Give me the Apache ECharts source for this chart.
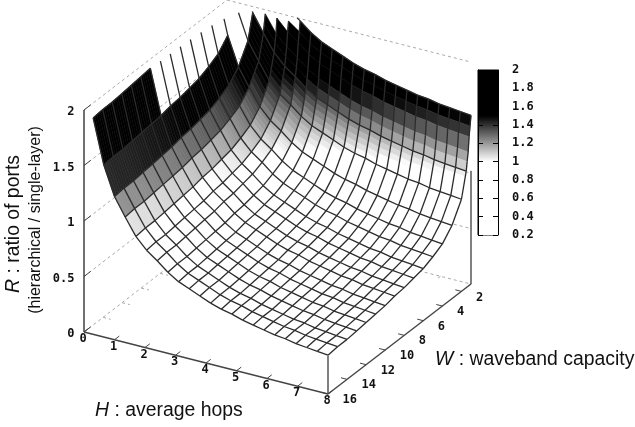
<!DOCTYPE html>
<html><head><meta charset="utf-8">
<style>html,body{margin:0;padding:0;background:#fff}#c{width:635px;height:427px}</style>
<script src="https://cdn.jsdelivr.net/npm/echarts@6/dist/echarts.min.js"></script>
</head><body><div id="c"></div>
<script>
// ---- data ----
const hValues = [0.3,0.65,1,1.35,1.7,2.05,2.4,2.75,3.1,3.45,3.8,4.15,4.5,4.85,5.2,5.55,5.9,6.25,6.6,6.95,7.3,7.65,8];
const wValues = [1,1.1,1.2,1.3,1.4,1.5,2,3,4,5,6,7,8,9,10,11,12,13,14,15,16];
const meshW = [1,1.5,2,3,4,5,6,7,8,9,10,11,12,13,14,15,16];
// one row per H value, one column per W value
const ratioR = [
[3.12,3.03,2.94,2.81,2.73,2.65,2.43,2.26,2.16,2.11,2.07,2.05,2.03,2.02,2.00,1.99,1.98,1.97,1.96,1.96,1.95],
[2.72,2.63,2.54,2.41,2.33,2.25,2.03,1.86,1.76,1.71,1.67,1.65,1.63,1.62,1.60,1.59,1.58,1.57,1.56,1.56,1.55],
[2.46,2.37,2.28,2.15,2.07,1.99,1.77,1.60,1.50,1.45,1.41,1.39,1.37,1.36,1.34,1.33,1.32,1.31,1.30,1.30,1.29],
[2.30,2.21,2.12,1.99,1.91,1.83,1.61,1.44,1.34,1.29,1.25,1.23,1.21,1.20,1.18,1.17,1.16,1.15,1.14,1.14,1.13],
[2.15,2.06,1.97,1.84,1.76,1.68,1.46,1.29,1.19,1.14,1.10,1.08,1.06,1.05,1.03,1.02,1.01,1.00,0.99,0.99,0.98],
[2.05,1.96,1.87,1.74,1.66,1.58,1.36,1.19,1.09,1.04,1.00,0.98,0.96,0.95,0.93,0.92,0.91,0.90,0.89,0.89,0.88],
[1.98,1.89,1.80,1.67,1.59,1.51,1.29,1.12,1.02,0.97,0.93,0.91,0.89,0.88,0.86,0.85,0.84,0.83,0.82,0.82,0.81],
[1.90,1.81,1.72,1.59,1.51,1.43,1.21,1.04,0.94,0.89,0.85,0.83,0.81,0.80,0.78,0.77,0.76,0.75,0.74,0.74,0.73],
[1.84,1.75,1.66,1.53,1.45,1.37,1.15,0.98,0.88,0.83,0.79,0.77,0.75,0.74,0.72,0.71,0.70,0.69,0.68,0.68,0.67],
[1.80,1.71,1.62,1.49,1.41,1.33,1.11,0.94,0.84,0.79,0.75,0.73,0.71,0.70,0.68,0.67,0.66,0.65,0.64,0.64,0.63],
[1.76,1.67,1.58,1.45,1.37,1.29,1.07,0.90,0.80,0.75,0.71,0.69,0.67,0.66,0.64,0.63,0.62,0.61,0.60,0.60,0.59],
[1.72,1.63,1.54,1.41,1.33,1.25,1.03,0.86,0.76,0.71,0.67,0.65,0.63,0.62,0.60,0.59,0.58,0.57,0.56,0.56,0.55],
[1.69,1.60,1.51,1.38,1.30,1.22,1.00,0.83,0.73,0.68,0.64,0.62,0.60,0.59,0.57,0.56,0.55,0.54,0.53,0.53,0.52],
[1.67,1.58,1.49,1.36,1.28,1.20,0.98,0.81,0.71,0.66,0.62,0.60,0.58,0.57,0.55,0.54,0.53,0.52,0.51,0.51,0.50],
[1.64,1.55,1.46,1.33,1.25,1.17,0.95,0.78,0.68,0.63,0.59,0.57,0.55,0.54,0.52,0.51,0.50,0.49,0.48,0.48,0.47],
[1.62,1.53,1.44,1.31,1.23,1.15,0.93,0.76,0.66,0.61,0.57,0.55,0.53,0.52,0.50,0.49,0.48,0.47,0.46,0.46,0.45],
[1.60,1.51,1.42,1.29,1.21,1.13,0.91,0.74,0.64,0.59,0.55,0.53,0.51,0.50,0.48,0.47,0.46,0.45,0.44,0.44,0.43],
[1.58,1.49,1.40,1.27,1.19,1.11,0.89,0.72,0.62,0.57,0.53,0.51,0.49,0.48,0.46,0.45,0.44,0.43,0.42,0.42,0.41],
[1.57,1.48,1.39,1.26,1.18,1.10,0.88,0.71,0.61,0.56,0.52,0.50,0.48,0.47,0.45,0.44,0.43,0.42,0.41,0.41,0.40],
[1.55,1.46,1.37,1.24,1.16,1.08,0.86,0.69,0.59,0.54,0.50,0.48,0.46,0.45,0.43,0.42,0.41,0.40,0.39,0.39,0.38],
[1.54,1.45,1.36,1.23,1.15,1.07,0.85,0.68,0.58,0.53,0.49,0.47,0.45,0.44,0.42,0.41,0.40,0.39,0.38,0.38,0.37],
[1.53,1.44,1.35,1.22,1.14,1.06,0.84,0.67,0.57,0.52,0.48,0.46,0.44,0.43,0.41,0.40,0.39,0.38,0.37,0.37,0.36],
[1.52,1.43,1.34,1.21,1.13,1.05,0.83,0.66,0.56,0.51,0.47,0.45,0.43,0.42,0.40,0.39,0.38,0.37,0.36,0.36,0.35]
];
const hTicks = [0,1,2,3,4,5,6,7,8];
const wTicks = [2,4,6,8,10,12,14,16];
const zTicks = [0,0.5,1,1.5,2];
const zMax = 2;

// ---- view of the 3D box ----
function project(h, w, z) {
  return [84 + 30.5 * h + (16 - w) * 9.533, 332 + 7.75 * h - (16 - w) * 7.33 - 111 * z];
}
function grayOf(r) {
  const g = Math.round(255 * Math.max(0, Math.min(1, (1.5 - r) / 0.5)));
  return 'rgb(' + g + ',' + g + ',' + g + ')';
}

const chart = echarts.init(document.getElementById('c'), null, {renderer: 'canvas'});

const cells = [];
for (let i = 0; i < hValues.length - 1; i++) for (let j = 0; j < wValues.length - 1; j++) cells.push([i, j]);
cells.sort((a, b) => (a[0] + a[1]) - (b[0] + b[1]));
const cellOK = (i, j) => ratioR[i][j] <= zMax && ratioR[i + 1][j] <= zMax && ratioR[i][j + 1] <= zMax && ratioR[i + 1][j + 1] <= zMax;

const meshSegs = [];
hValues.forEach((h, i) => wValues.forEach((w, j) => {
  if (i < hValues.length - 1 && meshW.includes(w)) meshSegs.push([i, j, i + 1, j]);
  if (j < wValues.length - 1) {
    const left = i > 0 && cellOK(i - 1, j), right = i < hValues.length - 1 && cellOK(i, j);
    if (left || right) meshSegs.push([i, j, i, j + 1]);
  }
}));

function segSeries(segs, style, z) {
  return {
    type: 'custom', coordinateSystem: 'cartesian2d', xAxisIndex: 0, yAxisIndex: 0,
    silent: true, animation: false, progressive: 0, clip: false, z: z,
    data: segs,
    renderItem: function (params, api) {
      const a = api.coord(project(api.value(0), api.value(1), api.value(2)));
      const b = api.coord(project(api.value(3), api.value(4), api.value(5)));
      return {type: 'line', shape: {x1: a[0], y1: a[1], x2: b[0], y2: b[1]}, style: Object.assign({fill: null}, style)};
    }
  };
}
function textSeries(items, font, align, z) {
  return {
    type: 'custom', coordinateSystem: 'cartesian2d', xAxisIndex: 0, yAxisIndex: 0,
    silent: true, animation: false, progressive: 0, clip: false, z: z,
    data: items.map(t => [t.h, t.w, t.z]),
    renderItem: function (params, api) {
      const t = items[params.dataIndex];
      const p = api.coord(project(t.h, t.w, t.z));
      return {type: 'text', x: p[0] + t.dx, y: p[1] + t.dy, style: {text: t.s, font: font, fill: '#111', textAlign: align, textVerticalAlign: 'middle'}};
    }
  };
}

const backDash = [[0,16,zMax,0,1,zMax],[0,1,zMax,8,1,zMax]];
zTicks.slice(0, 4).forEach(z => { backDash.push([0,16,z,0,1,z]); backDash.push([0,1,z,8,1,z]); });
wTicks.forEach(w => backDash.push([0,w,0,0.25,w,0]));
hTicks.forEach(h => backDash.push([h,1,0,h,1.5,0]));

const frameDark = [[0,16,0,8,16,0],[8,16,0,8,1,0]];
const frameZ = [[0,16,0,0,16,zMax]];
const frameGray = [[8,16,0,8,16,0.35],[8,1,0,8,1,1.02]];
const frameTicks = [];
hTicks.forEach(h => frameTicks.push([h,16,0,h,15.5,0]));
wTicks.forEach(w => frameTicks.push([8,w,0,7.8,w,0]));
zTicks.forEach(z => frameTicks.push([0,16,z,0,15.3,z]));

const hLabels = hTicks.map(h => ({h: h, w: 16, z: 0, dx: -1, dy: 7, s: String(h)}));
const wLabels = wTicks.map(w => ({h: 8, w: w, z: 0, dx: 14.5, dy: 6, s: String(w)}));
const zLabels = zTicks.map(z => ({h: 0, w: 16, z: z, dx: -9.5, dy: 2, s: String(z)}));

const monoFont = 'bold 12px "DejaVu Sans Mono"';
const richTitle = {i: {fontFamily: 'Liberation Sans', fontStyle: 'italic', fontSize: 19.4, fill: '#111'},
                   n: {fontFamily: 'Liberation Sans', fontSize: 19.4, fill: '#111'}};
const fillSteps = 5;

chart.setOption({
  animation: false,
  backgroundColor: '#fff',
  grid: [
    {left: 0, top: 0, width: 635, height: 427, show: false},
    {left: 478, top: 70, width: 20, height: 165, show: true, borderColor: '#000', borderWidth: 1, backgroundColor: 'transparent'}
  ],
  xAxis: [
    {gridIndex: 0, type: 'value', min: 0, max: 635, show: false},
    {gridIndex: 1, type: 'value', min: 0, max: 1, show: false}
  ],
  yAxis: [
    {gridIndex: 0, type: 'value', min: 0, max: 427, inverse: true, show: false},
    {gridIndex: 1, type: 'value', min: 0.2, max: 2, interval: 0.2, position: 'left', z: 5,
     axisLine: {show: true, lineStyle: {color: '#000'}}, axisTick: {show: true, inside: true, length: 5, lineStyle: {color: '#000'}},
     axisLabel: {show: false}, splitLine: {show: false}},
    {gridIndex: 1, type: 'value', min: 0.2, max: 2, interval: 0.2, position: 'right', z: 5,
     axisLine: {show: true, lineStyle: {color: '#000'}}, axisTick: {show: true, inside: true, length: 5, lineStyle: {color: '#000'}},
     axisLabel: {show: true, margin: 14, color: '#111', fontFamily: 'DejaVu Sans Mono', fontWeight: 'bold', fontSize: 12, padding: [6, 0, 0, 0],
       showMinLabel: true, showMaxLabel: true, formatter: v => String(+v.toFixed(1))}, splitLine: {show: false}}
  ],
  series: [
    segSeries(backDash, {stroke: '#aaa', lineWidth: 1, lineDash: [3, 3]}, 2),
    {
      type: 'custom', coordinateSystem: 'cartesian2d', xAxisIndex: 1, yAxisIndex: 1, silent: true, animation: false, z: 2,
      data: [[0, zMax, 1, 0.2]],
      renderItem: function (params, api) {
        const a = api.coord([api.value(0), api.value(1)]), b = api.coord([api.value(2), api.value(3)]);
        const off = r => (zMax - r) / (zMax - 0.2);
        return {type: 'rect', shape: {x: a[0], y: a[1], width: b[0] - a[0], height: b[1] - a[1]},
          style: {fill: new echarts.graphic.LinearGradient(0, 0, 0, 1, [
            {offset: 0, color: '#000'}, {offset: off(1.5), color: '#000'}, {offset: off(1.0), color: '#fff'}, {offset: 1, color: '#fff'}])}};
      }
    },
    {
      type: 'custom', coordinateSystem: 'cartesian2d', xAxisIndex: 0, yAxisIndex: 0, silent: true, animation: false,
      progressive: 0, clip: false, z: 3,
      data: cells,
      renderItem: function (params, api) {
        const i = api.value(0), j = api.value(1);
        if (!cellOK(i, j)) return null;
        const h0 = hValues[i], h1 = hValues[i + 1], w0 = wValues[j], w1 = wValues[j + 1];
        const steps = (w1 - w0) >= 0.5 ? fillSteps : 1;
        const children = [];
        for (let s = 0; s < steps; s++) {
          const t0 = s / steps, t1 = (s + 1) / steps;
          const rAt = (row, t) => ratioR[row][j] + t * (ratioR[row][j + 1] - ratioR[row][j]);
          const wAt = t => w0 + t * (w1 - w0);
          const c = [[h0, wAt(t0), rAt(i, t0)], [h1, wAt(t0), rAt(i + 1, t0)], [h1, wAt(t1), rAt(i + 1, t1)], [h0, wAt(t1), rAt(i, t1)]];
          const col = grayOf((c[0][2] + c[1][2] + c[2][2] + c[3][2]) / 4);
          children.push({type: 'polygon', shape: {points: c.map(p => api.coord(project(p[0], p[1], p[2])))}, style: {fill: col, stroke: col, lineWidth: 0.6}});
        }
        return {type: 'group', children: children};
      }
    },
    {
      type: 'custom', coordinateSystem: 'cartesian2d', xAxisIndex: 0, yAxisIndex: 0, silent: true, animation: false,
      progressive: 0, clip: false, z: 4,
      data: meshSegs,
      renderItem: function (params, api) {
        const i0 = api.value(0), j0 = api.value(1), i1 = api.value(2), j1 = api.value(3);
        let a = [hValues[i0], wValues[j0], ratioR[i0][j0]], b = [hValues[i1], wValues[j1], ratioR[i1][j1]];
        if (a[2] > zMax && b[2] > zMax) return null;
        if (a[2] > zMax || b[2] > zMax) {
          const t = (zMax - a[2]) / (b[2] - a[2]);
          const m = [a[0] + t * (b[0] - a[0]), a[1] + t * (b[1] - a[1]), zMax];
          if (a[2] > zMax) a = m; else b = m;
        }
        const p = api.coord(project(a[0], a[1], a[2])), q = api.coord(project(b[0], b[1], b[2]));
        return {type: 'line', shape: {x1: p[0], y1: p[1], x2: q[0], y2: q[1]}, style: {stroke: '#2b2b2b', lineWidth: 1.3, fill: null}};
      }
    },
    segSeries(frameGray, {stroke: '#808080', lineWidth: 2}, 5),
    segSeries(frameDark, {stroke: '#444', lineWidth: 1.4}, 5),
    segSeries(frameZ, {stroke: '#111', lineWidth: 1.2}, 5),
    segSeries(frameTicks, {stroke: '#444', lineWidth: 1}, 5),
    textSeries(hLabels, monoFont, 'center', 6),
    textSeries(wLabels, monoFont, 'left', 6),
    textSeries(zLabels, monoFont, 'right', 6)
  ],
  graphic: [
    {type: 'text', x: 95, y: 411, silent: true, style: {text: '{i|H}{n| : average hops}', rich: richTitle, textAlign: 'left', textVerticalAlign: 'middle'}},
    {type: 'text', x: 435, y: 360, silent: true, style: {text: '{i|W}{n| : waveband capacity}', rich: richTitle, textAlign: 'left', textVerticalAlign: 'middle'}},
    {type: 'text', x: 14, y: 224, rotation: Math.PI / 2, silent: true, style: {text: '{i|R}{n| : ratio of ports}', rich: richTitle, textAlign: 'center', textVerticalAlign: 'middle'}},
    {type: 'text', x: 36, y: 220, rotation: Math.PI / 2, silent: true, style: {text: '(hierarchical / single-layer)', font: '16px "Liberation Sans"', fill: '#111', textAlign: 'center', textVerticalAlign: 'middle'}}
  ]
});
</script></body></html>
